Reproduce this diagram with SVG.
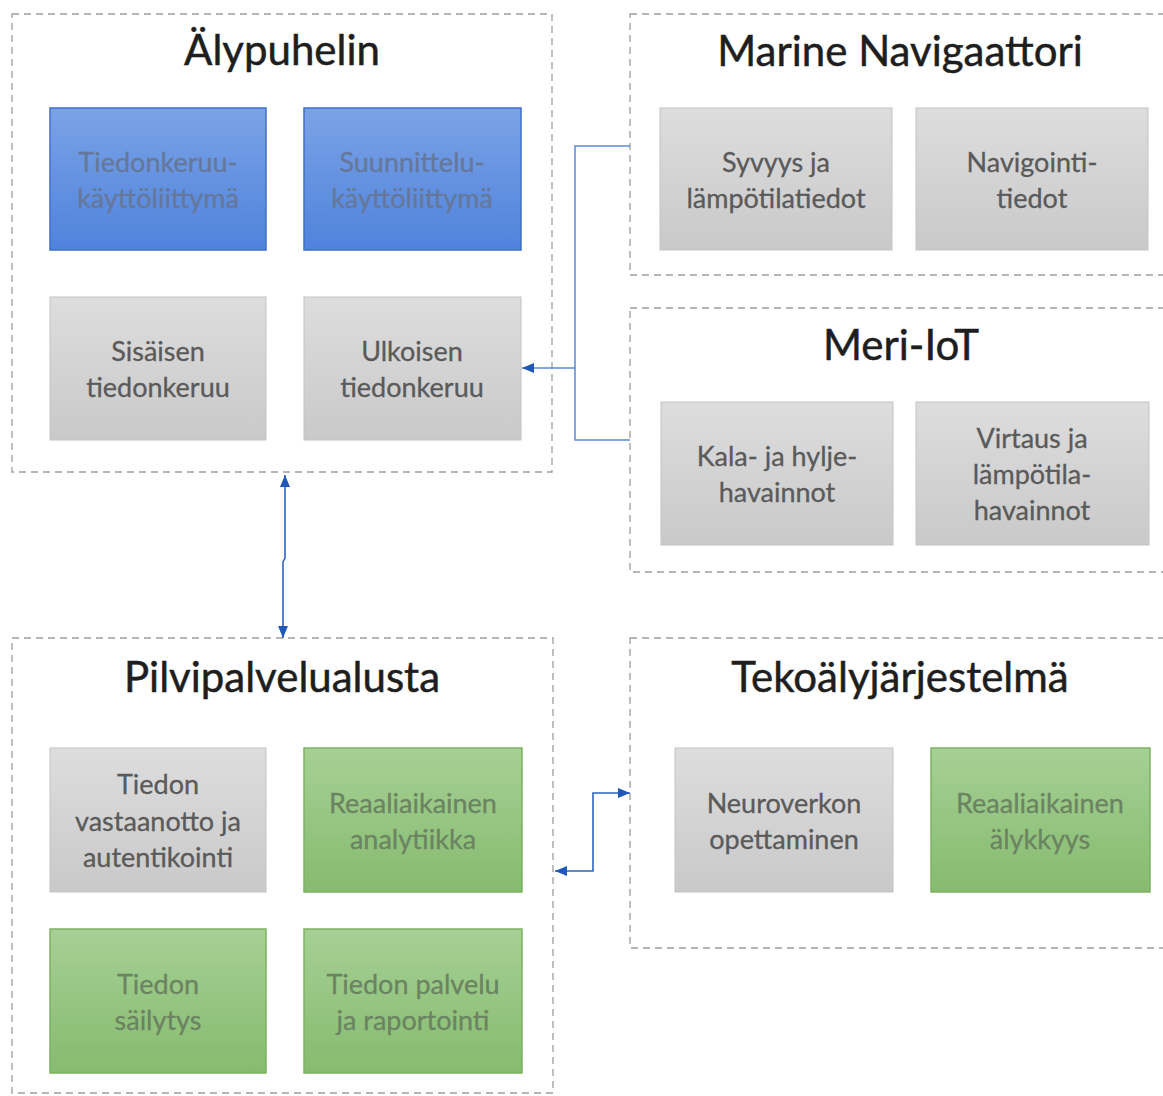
<svg xmlns="http://www.w3.org/2000/svg" width="1163" height="1096" viewBox="0 0 1163 1096">
<style>
.cont{fill:none;stroke:#9e9e9e;stroke-width:1.3;stroke-dasharray:7 5}
.title{font-family:Lato,"Open Sans","Liberation Sans",sans-serif;font-size:42px;fill:#1e1e1e;stroke:#1e1e1e;stroke-width:0.5;text-anchor:middle}
.bt{font-family:Lato,"Open Sans","Liberation Sans",sans-serif;font-size:27px;text-anchor:middle;dominant-baseline:central;stroke-width:0.3}
.gray{fill:url(#gGray);stroke:#c4c4c4;stroke-width:1}
.blue{fill:url(#gBlue);stroke:#3f6fc8;stroke-width:1.5}
.green{fill:url(#gGreen);stroke:#7cb262;stroke-width:1.5}
.tg{fill:#5a5a5a;stroke:#5a5a5a}
.tb{fill:#65789a;stroke:#65789a}
.tgr{fill:#6a8461;stroke:#6a8461}
.conn{fill:none;stroke:#2e63c0;stroke-width:1.6}
.br{fill:none;stroke:#5b88d8;stroke-width:1.5}
</style>
<defs>
<linearGradient id="gGray" x1="0" y1="0" x2="0" y2="1">
<stop offset="0" stop-color="#dddddd"/><stop offset="1" stop-color="#c9c9c9"/>
</linearGradient>
<linearGradient id="gBlue" x1="0" y1="0" x2="0" y2="1">
<stop offset="0" stop-color="#7ba2e6"/><stop offset="1" stop-color="#4f83dc"/>
</linearGradient>
<linearGradient id="gGreen" x1="0" y1="0" x2="0" y2="1">
<stop offset="0" stop-color="#a6d095"/><stop offset="1" stop-color="#86bb6f"/>
</linearGradient>
<marker id="ah" viewBox="0 0 12 10" refX="12" refY="5" markerWidth="12" markerHeight="10" markerUnits="userSpaceOnUse" orient="auto-start-reverse">
<path d="M0,0 L12,5 L0,10 z" fill="#1f58b8"/>
</marker>
</defs>
<rect width="1163" height="1096" fill="#ffffff"/>

<g id="alypuhelin">
<rect class="cont" x="12" y="14" width="540" height="458"/>
<text class="title" x="282" y="65">Älypuhelin</text>
<g id="tiedonkeruu-kayttoliittyma">
<rect class="blue" x="50" y="108" width="216" height="142"/>
<text class="bt tb" x="158" y="161">Tiedonkeruu-</text>
<text class="bt tb" x="158" y="197">käyttöliittymä</text>
</g>
<g id="suunnittelu-kayttoliittyma">
<rect class="blue" x="304" y="108" width="217" height="142"/>
<text class="bt tb" x="412" y="161">Suunnittelu-</text>
<text class="bt tb" x="412" y="197">käyttöliittymä</text>
</g>
<g id="sisaisen-tiedonkeruu">
<rect class="gray" x="50" y="297" width="216" height="143"/>
<text class="bt tg" x="158" y="350">Sisäisen</text>
<text class="bt tg" x="158" y="386">tiedonkeruu</text>
</g>
<g id="ulkoisen-tiedonkeruu">
<rect class="gray" x="304" y="297" width="217" height="143"/>
<text class="bt tg" x="412" y="350">Ulkoisen</text>
<text class="bt tg" x="412" y="386">tiedonkeruu</text>
</g>
</g>

<g id="marine-navigaattori">
<rect class="cont" x="630" y="14" width="545" height="261"/>
<text class="title" x="900" y="66">Marine Navigaattori</text>
<g id="syvyys">
<rect class="gray" x="660" y="108" width="232" height="142"/>
<text class="bt tg" x="776" y="161">Syvyys ja</text>
<text class="bt tg" x="776" y="197">lämpötilatiedot</text>
</g>
<g id="navigointitiedot">
<rect class="gray" x="916" y="108" width="232" height="142"/>
<text class="bt tg" x="1032" y="161">Navigointi-</text>
<text class="bt tg" x="1032" y="197">tiedot</text>
</g>
</g>

<g id="meri-iot">
<rect class="cont" x="630" y="308" width="545" height="264"/>
<text class="title" x="901" y="360">Meri-IoT</text>
<g id="kala-hylje">
<rect class="gray" x="661" y="402" width="232" height="143"/>
<text class="bt tg" x="777" y="455">Kala- ja hylje-</text>
<text class="bt tg" x="777" y="491">havainnot</text>
</g>
<g id="virtaus">
<rect class="gray" x="916" y="402" width="233" height="143"/>
<text class="bt tg" x="1032" y="437">Virtaus ja</text>
<text class="bt tg" x="1032" y="473">lämpötila-</text>
<text class="bt tg" x="1032" y="509">havainnot</text>
</g>
</g>

<g id="pilvipalvelualusta">
<rect class="cont" x="12" y="638" width="541" height="455"/>
<text class="title" x="282" y="692">Pilvipalvelualusta</text>
<g id="vastaanotto">
<rect class="gray" x="50" y="748" width="216" height="144"/>
<text class="bt tg" x="158" y="783">Tiedon</text>
<text class="bt tg" x="158" y="820">vastaanotto ja</text>
<text class="bt tg" x="158" y="856">autentikointi</text>
</g>
<g id="analytiikka">
<rect class="green" x="304" y="748" width="218" height="144"/>
<text class="bt tgr" x="413" y="802">Reaaliaikainen</text>
<text class="bt tgr" x="413" y="838">analytiikka</text>
</g>
<g id="sailytys">
<rect class="green" x="50" y="929" width="216" height="144"/>
<text class="bt tgr" x="158" y="983">Tiedon</text>
<text class="bt tgr" x="158" y="1019">säilytys</text>
</g>
<g id="palvelu-raportointi">
<rect class="green" x="304" y="929" width="218" height="144"/>
<text class="bt tgr" x="413" y="983">Tiedon palvelu</text>
<text class="bt tgr" x="413" y="1019">ja raportointi</text>
</g>
</g>

<g id="tekoalyjarjestelma">
<rect class="cont" x="630" y="638" width="545" height="310"/>
<text class="title" x="900" y="692">Tekoälyjärjestelmä</text>
<g id="neuroverkko">
<rect class="gray" x="675" y="748" width="218" height="144"/>
<text class="bt tg" x="784" y="802">Neuroverkon</text>
<text class="bt tg" x="784" y="838">opettaminen</text>
</g>
<g id="alykkyys">
<rect class="green" x="931" y="748" width="219" height="144"/>
<text class="bt tgr" x="1040" y="802">Reaaliaikainen</text>
<text class="bt tgr" x="1040" y="838">älykkyys</text>
</g>
</g>

<g id="connectors">
<path class="br" d="M630,146 H575 V440 H630"/>
<path class="br" d="M575,368 H522" marker-end="url(#ah)"/>
<path class="conn" d="M285,475 V558 L283,562 V638" marker-start="url(#ah)" marker-end="url(#ah)"/>
<path class="conn" d="M555,871 H593 V793 H630" marker-start="url(#ah)" marker-end="url(#ah)"/>
</g>
</svg>
